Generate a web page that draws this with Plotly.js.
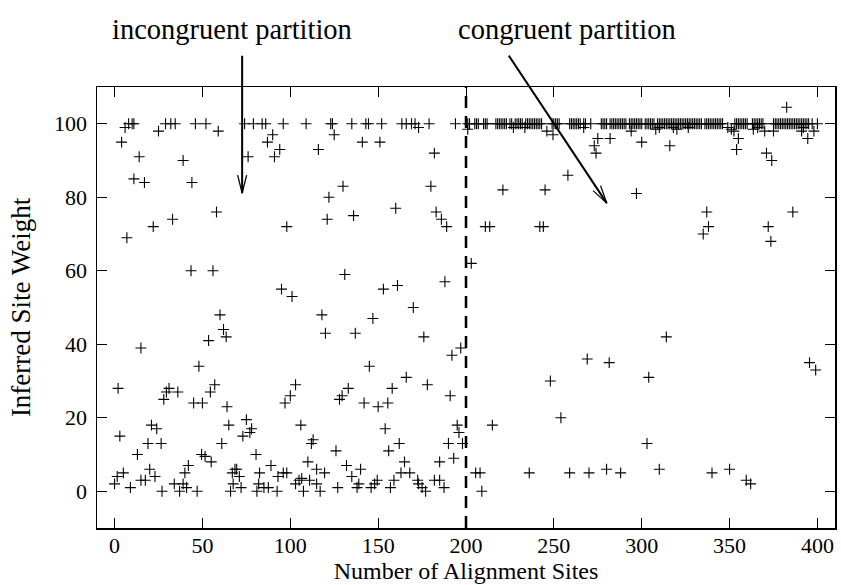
<!DOCTYPE html>
<html>
<head>
<meta charset="utf-8">
<script src="https://cdn.plot.ly/plotly-3.0.1.min.js"></script>
<style>
html,body{margin:0;padding:0;background:#fff;}
#chart{width:841px;height:585px;}
</style>
</head>
<body>
<div id="chart"></div>
<script>
// ---- data ----
const incongruentX = [4,6,8,10,11,14,11,17,7,25,29,32,34.5,39,44,22,33,58,46,52,59,43.5,56,74,76,79,84,86,87,90,94,91,96,95,98,
  109,123,124,135,143,144.5,152,163.5,166,169,171,173,179,194,125,116,141,151,182,130,122,180,160,121,136,183,186,189,131,101,153,161,188,170,
  60,62,63.5,53.5,15,48,2,57,54.5,31,29.5,36,28,45,50,64,97,21,24,3,65,75,78,77,73,19,26.5,61,13,49.5,51.5,55,80.5,42,20,69.5,89,5,1.5,23,40,67,68.5,71,82.5,93,96,0,9,15,17.5,34,39,27,37,41,47,66,67.5,72,81,82,85,87.5,92.5,
  118,147,120,137,176,192,197,145,166,103,100,133,129.5,128,142,150,155.5,158,178,191,106,113,112,154,126,156,162,195,196,190,198,193,110,132,140,165,185,98,115,119.5,135,163,168,172.5,103,105,106.5,111,115,107.5,117,127,138,139,146,148,149.5,157,159,173,175,177,182,185,187.5];
const incongruentY = [95,99,100,100,100,91,85,84,69,98,100,100,100,90,84,72,74,76,100,100,98,60,60,100,91,100,100,100,95,97,93,91,100,55,72,
  100,100,100,100,100,100,100,100,100,100,100,99,100,100,97,93,95,95,92,83,80,83,77,74,75,76,74,72,59,53,55,56,57,50,
  48,44,42,41,39,34,28,29,27,28,27,27,25,24,24,23,24,18,17,15,18,19.5,17,16,15,13,13,13,10,10,9.5,8,10,7,6,6,7,5,4,4,5,5,6,4,5,4,5,2,1,3,3,2,2,0,0,1,0,0,2,1,0,2,1,1,0,
  48,47,43,43,42,37,39,34,31,29,26,28,26,25,24,23,24,28,29,26,18,14,13,17,11,11,13,18,16,13,13,9,8,7,6,8,8,5,6,5,4,5,5,3,2,3,3.5,3,2,0,0,1,1,2,1,2,3,1,3,2,1,0,3,3,1];

const congruentX = [201,227,233.5,246,249.5,267,275,282,273,274,294,300,308,258,221,245,297,211,213.5,242,244,203,
  382.5,310,318,320,326.5,349,351,352.5,363.5,366,370,375,391,392,398,316,355,354,371,374,394.5,337,338,335,386,372,373.5,
  269,281.5,304,248,254,215,303,205.5,208,209,236,259,270,280,288,310,314,340,350,359.5,362,395.5,399];
const congruentY = [98.5,99,99,98,97,99,96,96,94,92,98,95,98.5,86,82,82,81,72,72,72,72,62,
  104.5,99,99,98.5,99,99,98.5,98,98.5,99,98,98,98,99,98,94,96,93,92,90,96,76,72,70,76,72,68,
  36,35,31,30,20,18,13,5,5,0,5,5,5,6,5,6,42,5,6,3,2,35,33];

// sites of the congruent partition that sit on the weight-100 row
const congruentTopX = [201,202,205,206,207,210,211,212,217,218,219,220,221,222,223,225,226,228,229,230,231,232,234,235,236,237,238,239,240,241,242,243,
  249,250,251,252,253,259,260,261,262,263,264,265,267,268,271,277,278,279,280,282,283,284,285,286,287,288,289,290,291,293,294,295,296,297,298,299,300,
  302,303,304,305,306,307,309,310,311,312,313,314,315,316,317,318,319,320,321,322,323,324,325,326,327,328,329,330,331,332,333,334,
  336,337,338,339,340,341,342,343,344,345,346,353,354,355,356,357,358,359,360,363,364,365,366,367,368,369,
  375,376,377,378,379,380,381,382,383,384,385,386,387,388,389,390,391,392,393,394,395,397,400];
const congruentTopY = [100,100,100,100,100,100,100,100,100,100,100,100,100,100,100,100,100,100,100,100,100,100,100,100,100,100,100,100,100,100,100,100,
  100,100,100,100,100,100,100,100,100,100,100,100,100,100,100,100,100,100,100,100,100,100,100,100,100,100,100,100,100,100,100,100,100,100,100,100,100,
  100,100,100,100,100,100,100,100,100,100,100,100,100,100,100,100,100,100,100,100,100,100,100,100,100,100,100,100,100,100,100,100,
  100,100,100,100,100,100,100,100,100,100,100,100,100,100,100,100,100,100,100,100,100,100,100,100,100,100,
  100,100,100,100,100,100,100,100,100,100,100,100,100,100,100,100,100,100,100,100,100,100,100];

const xTickVals = [0,50,100,150,200,250,300,350,400];
const yTickVals = [0,20,40,60,80,100];
const partitionBoundary = 200;
const xLabel = 'Number of Alignment Sites';
const yLabel = 'Inferred Site Weight';
const incongruentLabel = 'incongruent partition';
const congruentLabel = 'congruent partition';
const incongruentTip = [72.6, 81.1];
const congruentTip = [280.1, 78.4];

// ---- styling ----
const FONT = 'Liberation Serif, Times New Roman, serif';
const XR = [-10, 410], YR = [-10, 110];
const markerStyle = {symbol: 'cross-thin', size: 7.8, color: '#000', line: {width: 1.1, color: '#000'}};

function mk(x, y) {
  return {type: 'scatter', mode: 'markers', x: x, y: y, marker: markerStyle,
          showlegend: false, hoverinfo: 'x+y', cliponaxis: true};
}
const traces = [mk(incongruentX, incongruentY), mk(congruentX, congruentY), mk(congruentTopX, congruentTopY)];

// open V arrow head path in pixel units (y up), for a screen direction (dx,dy) tail->head
function vHead(dx, dy, L, w) {
  const len = Math.hypot(dx, dy), ux = dx / len, uy = dy / len;
  const bx = -L * ux, by = -L * uy, nx = -uy, ny = ux;
  const a1 = [bx + w * nx, by + w * ny], a2 = [bx - w * nx, by - w * ny];
  return 'M' + a1[0].toFixed(2) + ',' + (-a1[1]).toFixed(2) + 'L0,0L' + a2[0].toFixed(2) + ',' + (-a2[1]).toFixed(2);
}
const arrow1 = {ax: 0, ay: -139};
const arrow2 = {ax: -99, ay: -149};

const shapes = [
  {type: 'line', xref: 'x', yref: 'paper', x0: partitionBoundary, x1: partitionBoundary, y0: 0, y1: 1,
   line: {color: '#000', width: 2.5, dash: '12px,8px'}},
  {type: 'path', xref: 'x', yref: 'y', xsizemode: 'pixel', ysizemode: 'pixel',
   xanchor: incongruentTip[0], yanchor: incongruentTip[1], path: vHead(-arrow1.ax, -arrow1.ay, 18, 4.5),
   line: {color: '#000', width: 1.3}},
  {type: 'path', xref: 'x', yref: 'y', xsizemode: 'pixel', ysizemode: 'pixel',
   xanchor: congruentTip[0], yanchor: congruentTip[1], path: vHead(-arrow2.ax, -arrow2.ay, 18, 4.5),
   line: {color: '#000', width: 1.3}}
];

const annotations = [
  {text: incongruentLabel, xref: 'paper', yref: 'paper', x: 0.183, y: 1.131, xanchor: 'center', yanchor: 'middle',
   showarrow: false, font: {family: FONT, size: 28.5, color: '#000'}},
  {text: congruentLabel, xref: 'paper', yref: 'paper', x: 0.637, y: 1.131, xanchor: 'center', yanchor: 'middle',
   showarrow: false, font: {family: FONT, size: 28.5, color: '#000'}},
  {text: '', x: incongruentTip[0], y: incongruentTip[1], xref: 'x', yref: 'y', showarrow: true, arrowhead: 0,
   arrowwidth: 2, arrowcolor: '#000', ax: arrow1.ax, ay: arrow1.ay, standoff: 0, startstandoff: 0},
  {text: '', x: congruentTip[0], y: congruentTip[1], xref: 'x', yref: 'y', showarrow: true, arrowhead: 0,
   arrowwidth: 2, arrowcolor: '#000', ax: arrow2.ax, ay: arrow2.ay, standoff: 0, startstandoff: 0}
];

const axisCommon = {
  ticks: 'inside', ticklen: 10, tickwidth: 1, tickcolor: '#000', mirror: 'allticks',
  showline: true, linecolor: '#000', linewidth: 1.5, showgrid: false, zeroline: false,
  tickfont: {family: FONT, size: 22, color: '#000'}, automargin: false, fixedrange: true
};

const layout = {
  width: 841, height: 585,
  margin: {l: 97, r: 6, t: 87, b: 57, pad: 0},
  paper_bgcolor: '#fff', plot_bgcolor: '#fff',
  font: {family: FONT, color: '#000'},
  xaxis: Object.assign({}, axisCommon, {range: XR, tickmode: 'array', tickvals: xTickVals,
    ticktext: xTickVals.map(String), ticklabelstandoff: -3,
    title: {text: xLabel, font: {family: FONT, size: 24, color: '#000'}, standoff: 5}}),
  yaxis: Object.assign({}, axisCommon, {range: YR, tickmode: 'array', tickvals: yTickVals,
    ticktext: yTickVals.map(String), ticklabelstandoff: 4,
    title: {text: yLabel, font: {family: FONT, size: 27, color: '#000'}, standoff: 15}}),
  shapes: shapes,
  annotations: annotations
};

Plotly.newPlot('chart', traces, layout, {displayModeBar: false, staticPlot: true});
</script>
</body>
</html>
